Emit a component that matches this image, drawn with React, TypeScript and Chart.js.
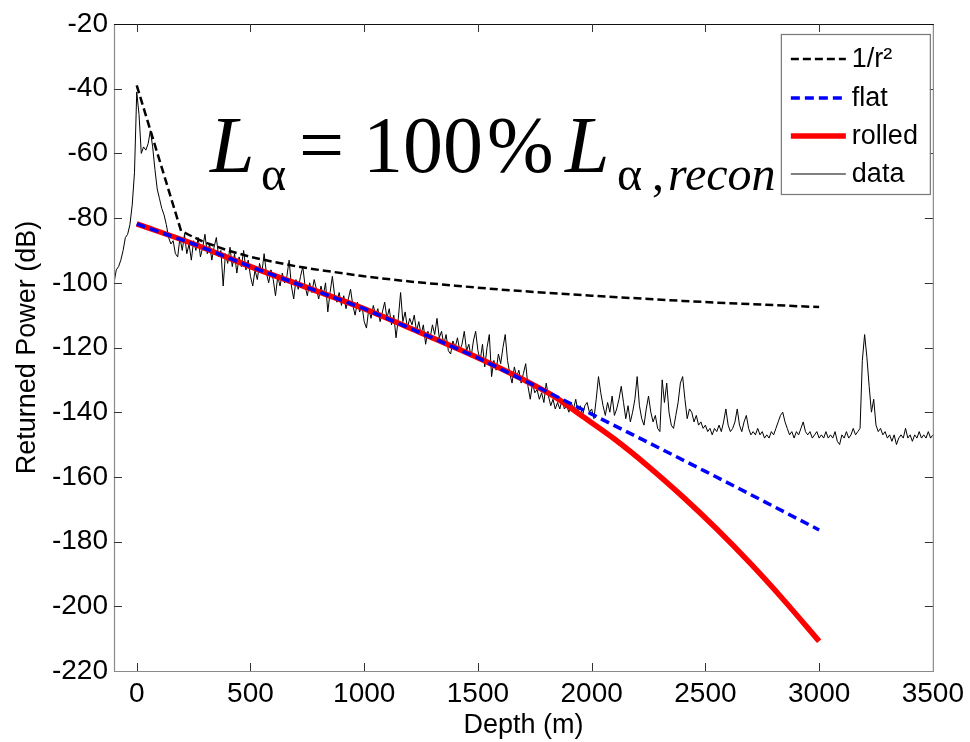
import React, { useEffect, useRef } from "react";
import { Chart, registerables } from "chart.js";

Chart.register(...registerables);

// ---------------- data ----------------
const X_TICKS = [0, 500, 1000, 1500, 2000, 2500, 3000, 3500];
const Y_TICKS = [-220, -200, -180, -160, -140, -120, -100, -80, -60, -40, -20];
const X_TITLE = "Depth (m)";
const Y_TITLE = "Returned Power (dB)";

const INV_R2_DEPTH = [0, 195, 250, 300, 400, 500, 600, 700, 800, 1000, 1200, 1400, 1600, 1800, 2000, 2200, 2400, 2600, 2800, 3000];
const INV_R2_DB = [-39, -84, -85.9, -87.5, -90, -92, -93.5, -94.9, -96, -98, -99.6, -100.9, -102.1, -103.1, -104, -104.8, -105.6, -106.3, -106.9, -107.5];

const FLAT_DEPTH = [0, 250, 500, 750, 1000, 1250, 1500, 1750, 2000, 2250, 2500, 2750, 3000];
const FLAT_DB = [-81.8, -88, -95, -101.5, -108, -115.5, -123.2, -131.8, -140.6, -149.4, -158.3, -167.3, -176.4];

const ROLLED_DEPTH = [0, 250, 500, 750, 1000, 1250, 1500, 1750, 1850, 1950, 2100, 2250, 2400, 2550, 2700, 2850, 3000];
const ROLLED_DB = [-81.8, -88, -95, -101.5, -108, -115.5, -123.2, -131.8, -135.8, -140.8, -148.3, -156.8, -166.1, -176.1, -186.9, -198.5, -210.8];

// measured trace, sampled every 10 m from -100 m to 3500 m
const DATA_START = -100;
const DATA_STEP = 10;
const DATA_DB = [
  -100, -96, -95, -93, -90, -86, -85, -82, -76, -66,
  -41, -48, -60, -58, -59, -57, -53, -58, -65, -71,
  -74, -77, -79, -82, -86, -88, -87, -91,
  // 180..500
  -92, -86, -90, -85, -91, -88, -93, -87, -90, -86,
  -92, -89, -85, -91, -88, -93, -89, -86, -92, -90,
  -101, -91, -94, -89, -95, -91, -97, -92, -95, -90,
  -96, -93, -98,
  // 510..1000
  -101, -96, -99, -94, -97, -91, -97, -100, -96, -99,
  -104, -98, -101, -97, -100, -98, -93, -101, -105, -99,
  -102, -98, -95, -101, -104, -100, -103, -99, -102, -105,
  -101, -104, -100, -109, -103, -98, -104, -106, -103, -107,
  -104, -108, -105, -102, -107, -110, -106, -109, -107, -112,
  // 1010..1500
  -114, -108, -111, -107, -110, -108, -112, -109, -106, -111,
  -108, -113, -110, -117, -111, -103, -112, -109, -114, -111,
  -113, -110, -115, -112, -116, -113, -119, -115, -117, -113,
  -116, -111, -117, -115, -119, -116, -121, -122, -118, -120,
  -117, -121, -119, -115, -121, -119, -123, -118, -115, -121,
  // 1510..2000
  -124, -119, -126, -120, -116, -129, -124, -127, -122, -125,
  -120, -116, -124, -128, -131, -126, -129, -127, -131, -128,
  -125, -132, -136, -131, -134, -133, -136, -134, -137, -131,
  -135, -138, -136, -139, -137, -139, -136, -139, -138, -140,
  -137, -139, -136, -140, -138, -141, -138, -137, -140, -139,
  // 2010..2500
  -142, -136, -129, -134, -138, -141, -137, -140, -135, -141,
  -139, -136, -132, -137, -142, -138, -143, -140, -136, -129,
  -138, -142, -144, -139, -135, -140, -143, -141, -145, -146,
  -130, -137, -131, -140, -144, -145, -141, -137, -131, -129,
  -136, -142, -139, -140, -143, -141, -144, -143, -145, -144,
  // 2510..3000
  -146, -145, -147, -145, -146, -144, -146, -143, -139, -144,
  -146, -145, -143, -139, -144, -146, -143, -141, -145, -147,
  -146, -147, -145, -147, -146, -148, -147, -148, -146, -147,
  -145, -143, -141, -140, -143, -145, -147, -146, -148, -146,
  -147, -145, -143, -146, -147, -146, -148, -147, -146, -148,
  // 3010..3500
  -147, -148, -146, -148, -147, -148, -146, -149, -150, -147,
  -148, -146, -148, -147, -145, -147, -146, -145, -124, -116,
  -123, -132, -140, -136, -144, -146, -145, -147, -146, -148,
  -147, -149, -147, -150, -148, -147, -148, -145, -148, -147,
  -149, -147, -148, -146, -148, -147, -148, -146, -148, -147,
];

const LABELS = ["1/r\u00B2", "flat", "rolled", "data"];

// ---------------- styling ----------------
const SANS = "'Liberation Sans', Arial, sans-serif";
const SERIF = "'Liberation Serif', 'Times New Roman', serif";

const pairs = (xs: number[], ys: number[]) => ys.map((y, i) => ({ x: xs[i], y }));
const dataPairs = () => DATA_DB.map((y, i) => ({ x: DATA_START + i * DATA_STEP, y }));

// annotation pieces (text, font, offset from chart area's top-left)
const ANNOT = [
  { t: "L", f: `italic 80px ${SERIF}`, dx: 96, dy: 148 },
  { t: "\u03B1", f: `48px ${SERIF}`, dx: 147, dy: 166 },
  { t: "=", f: `80px ${SERIF}`, dx: 185, dy: 148 },
  { t: "100", f: `80px ${SERIF}`, dx: 249, dy: 148 },
  { t: "%", f: `80px ${SERIF}`, dx: 373, dy: 148 },
  { t: "L", f: `italic 80px ${SERIF}`, dx: 451, dy: 148 },
  { t: "\u03B1", f: `48px ${SERIF}`, dx: 503, dy: 166 },
  { t: ",", f: `48px ${SERIF}`, dx: 538, dy: 166 },
  { t: "recon", f: `italic 48px ${SERIF}`, dx: 554, dy: 166 },
];

const overlayPlugin = {
  id: "overlay",
  afterDraw(chart: any) {
    const { ctx, chartArea: ca, scales } = chart;
    const xs = scales.x;
    const ys = scales.y;
    ctx.save();
    ctx.setLineDash([]);
    // frame
    ctx.lineWidth = 1.2;
    ctx.strokeStyle = "#8a8a8a";
    ctx.beginPath();
    ctx.moveTo(ca.left + 0.5, ca.top);
    ctx.lineTo(ca.left + 0.5, ca.bottom + 0.5);
    ctx.lineTo(ca.right + 0.5, ca.bottom + 0.5);
    ctx.lineTo(ca.right + 0.5, ca.top);
    ctx.stroke();
    ctx.strokeStyle = "#111";
    ctx.beginPath();
    ctx.moveTo(ca.left, ca.top + 0.5);
    ctx.lineTo(ca.right + 1, ca.top + 0.5);
    ctx.stroke();
    // inward ticks
    const TL = 8;
    ctx.strokeStyle = "#333";
    ctx.lineWidth = 1;
    ctx.beginPath();
    for (const t of xs.ticks) {
      const px = Math.round(xs.getPixelForValue(t.value)) + 0.5;
      if (px <= ca.left + 1 || px >= ca.right - 1) continue;
      ctx.moveTo(px, ca.bottom);
      ctx.lineTo(px, ca.bottom - TL);
      ctx.moveTo(px, ca.top);
      ctx.lineTo(px, ca.top + TL);
    }
    for (const t of ys.ticks) {
      const py = Math.round(ys.getPixelForValue(t.value)) + 0.5;
      if (py <= ca.top + 1 || py >= ca.bottom - 1) continue;
      ctx.moveTo(ca.left, py);
      ctx.lineTo(ca.left + TL, py);
      ctx.moveTo(ca.right, py);
      ctx.lineTo(ca.right - TL, py);
    }
    ctx.stroke();

    // annotation
    ctx.fillStyle = "#000";
    ctx.textBaseline = "alphabetic";
    ctx.textAlign = "left";
    for (const a of ANNOT) {
      ctx.font = a.f;
      ctx.fillText(a.t, ca.left + a.dx, ca.top + a.dy);
    }

    // legend box
    const lx = ca.right - 152;
    const ly = ca.top + 10;
    const lw = 149;
    const lh = 160;
    ctx.fillStyle = "#fff";
    ctx.fillRect(lx, ly, lw, lh);
    ctx.strokeStyle = "#777";
    ctx.lineWidth = 1.2;
    ctx.strokeRect(lx + 0.5, ly + 0.5, lw, lh);
    const rowY = [25, 64, 102, 140];
    chart.data.datasets.forEach((ds: any, i: number) => {
      const y = ly + rowY[i];
      ctx.save();
      ctx.strokeStyle = ds.borderColor;
      ctx.lineWidth = ds.borderWidth;
      ctx.setLineDash(ds.borderDash || []);
      ctx.beginPath();
      ctx.moveTo(lx + 10, y);
      ctx.lineTo(lx + 65, y);
      ctx.stroke();
      ctx.restore();
      ctx.fillStyle = "#000";
      ctx.font = `27px ${SANS}`;
      ctx.textBaseline = "middle";
      ctx.fillText(ds.label, lx + 71, y + 1);
    });
    ctx.restore();
  },
};

export default function App() {
  const ref = useRef<HTMLCanvasElement>(null);
  useEffect(() => {
    if (!ref.current) return;
    const chart = new Chart(ref.current, {
      type: "line",
      data: {
        datasets: [
          {
            label: LABELS[0],
            data: pairs(INV_R2_DEPTH, INV_R2_DB),
            borderColor: "#000000",
            borderWidth: 2.5,
            borderDash: [8, 4],
            pointRadius: 0,
            tension: 0,
            order: 0,
          },
          {
            label: LABELS[1],
            data: pairs(FLAT_DEPTH, FLAT_DB),
            borderColor: "#0000ff",
            borderWidth: 3.5,
            borderDash: [9, 5],
            pointRadius: 0,
            tension: 0,
            order: 1,
          },
          {
            label: LABELS[2],
            data: pairs(ROLLED_DEPTH, ROLLED_DB),
            borderColor: "#ff0000",
            borderWidth: 5.5,
            pointRadius: 0,
            cubicInterpolationMode: "monotone",
            order: 2,
          },
          {
            label: LABELS[3],
            data: dataPairs(),
            borderColor: "#000000",
            borderWidth: 1,
            pointRadius: 0,
            tension: 0,
            order: 3,
          },
        ],
      },
      options: {
        animation: false,
        responsive: false,
        events: [],
        layout: { padding: { top: 24, right: 36, left: 0, bottom: 0 } },
        plugins: { legend: { display: false }, tooltip: { enabled: false } },
        scales: {
          x: {
            type: "linear",
            min: -100,
            max: 3500,
            afterBuildTicks: (s: any) => {
              s.ticks = X_TICKS.map((v) => ({ value: v }));
            },
            afterFit: (s: any) => {
              s.height = 71;
            },
            grid: { display: false, drawTicks: false },
            border: { display: false },
            ticks: {
              color: "#000",
              font: { family: SANS, size: 28 },
              padding: 6,
              maxRotation: 0,
              autoSkip: false,
              callback: (v: any) => String(v),
            },
            title: {
              display: true,
              text: X_TITLE,
              color: "#000",
              font: { family: SANS, size: 27 },
              padding: { top: 0, bottom: 0 },
            },
          },
          y: {
            type: "linear",
            min: -220,
            max: -20,
            afterBuildTicks: (s: any) => {
              s.ticks = Y_TICKS.map((v) => ({ value: v }));
            },
            afterFit: (s: any) => {
              s.width = 114;
            },
            grid: { display: false, drawTicks: false },
            border: { display: false },
            ticks: {
              color: "#000",
              font: { family: SANS, size: 28 },
              padding: 6,
              autoSkip: false,
              callback: (v: any) => String(v),
            },
            title: {
              display: true,
              text: Y_TITLE,
              color: "#000",
              font: { family: SANS, size: 27 },
              padding: { top: 11, bottom: 0 },
            },
          },
        },
      },
      plugins: [overlayPlugin],
    });
    return () => chart.destroy();
  }, []);
  return (
    <div style={{ position: "fixed", left: 0, top: 0, width: 970, height: 742, background: "#fff" }}>
      <canvas ref={ref} width={970} height={742} style={{ display: "block" }} />
    </div>
  );
}
